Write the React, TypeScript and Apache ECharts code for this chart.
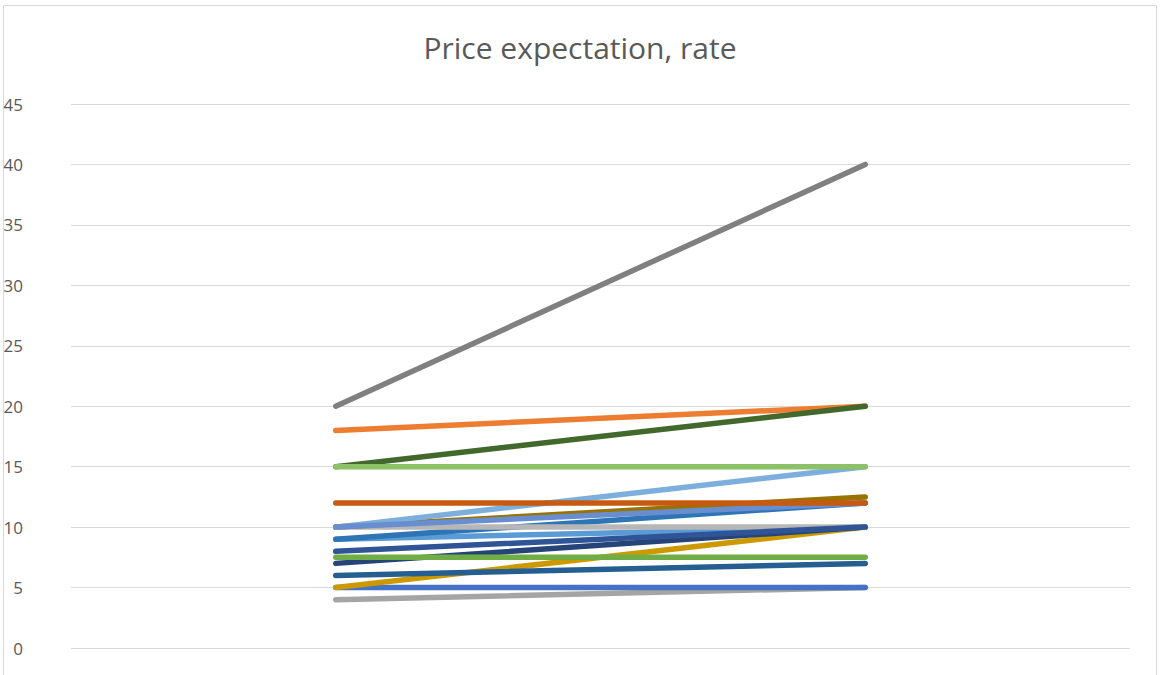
import React, { useEffect, useRef } from "react";
import * as echarts from "echarts";

// Two points per respondent: current rate and expected rate
const categories = ["Current", "Expected"];
const yTicks = { min: 0, max: 45, interval: 5 };

// Each line: [start, end] values, listed from bottom of the stack to the top
const lineNames = [
  "R1", "R2", "R3", "R4", "R5", "R6", "R7", "R8", "R9",
  "R10", "R11", "R12", "R13", "R14", "R15", "R16", "R17", "R18",
];
const startValues = [4, 5, 5, 6, 7, 7.5, 9, 9, 10, 8, 10, 10, 10, 12, 18, 15, 15, 20];
const endValues = [5, 5, 10, 7, 10, 7.5, 10, 12, 10, 10, 12.5, 15, 12, 12, 20, 20, 15, 40];
const lineColors = [
  "#A5A5A5", "#4472C4", "#CC9A00", "#255E91", "#264478", "#70AD47",
  "#5B9BD5", "#2E75B6", "#B7B7B7", "#2F5597", "#997300", "#7CAFDD",
  "#698ED0", "#C55A11", "#ED7D31", "#43682B", "#8CC168", "#808080",
];

export default function App() {
  const ref = useRef<HTMLDivElement>(null);

  useEffect(() => {
    if (!ref.current) return;
    const chart = echarts.init(ref.current, undefined, { renderer: "svg" });

    const series = lineNames.map((name, i) => ({
      name,
      type: "line" as const,
      data: [startValues[i], endValues[i]],
      symbol: "none",
      lineStyle: { color: lineColors[i], width: 5.5, cap: "round" as const },
      itemStyle: { color: lineColors[i] },
      z: 2,
    }));

    chart.setOption({
      animation: false,
      backgroundColor: "#ffffff",
      title: {
        text: "Price expectation, rate",
        left: "center",
        top: 27,
        textStyle: {
          fontFamily: "Open Sans",
          fontWeight: "normal",
          fontSize: 30,
          color: "#595959",
        },
      },
      graphic: [
        {
          type: "rect",
          shape: { x: 3.5, y: 5.5, width: 1153, height: 700 },
          style: { fill: "none", stroke: "#D9D9D9", lineWidth: 1 },
          silent: true,
        },
      ],
      grid: { left: 71, right: 30, top: 104, bottom: 27 },
      xAxis: {
        type: "category",
        data: categories,
        boundaryGap: true,
        axisLine: { show: false },
        axisTick: { show: false },
        axisLabel: { show: false },
      },
      yAxis: {
        type: "value",
        min: yTicks.min,
        max: yTicks.max,
        interval: yTicks.interval,
        axisLine: { show: false },
        axisTick: { show: false },
        axisLabel: {
          margin: 48,
          fontFamily: "Open Sans",
          fontSize: 17,
          color: "#595959",
        },
        splitLine: { lineStyle: { color: "#D9D9D9", width: 1 } },
      },
      series,
    });

    return () => chart.dispose();
  }, []);

  return (
    <div
      ref={ref}
      style={{ position: "fixed", left: 0, top: 0, width: 1160, height: 675 }}
    />
  );
}
